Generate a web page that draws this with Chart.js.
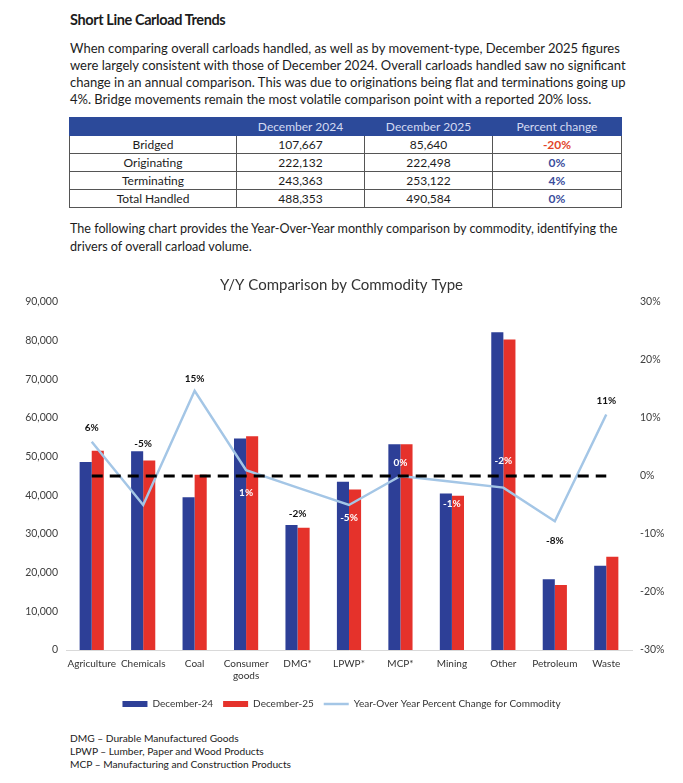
<!DOCTYPE html>
<html>
<head>
<meta charset="utf-8">
<title>Short Line Carload Trends</title>
<script src="https://cdn.jsdelivr.net/npm/chart.js@4.4.1/dist/chart.umd.min.js"></script>
<style>
  body { margin: 0; background: #fff; }
  .page { position: relative; width: 683px; height: 783px; font-family: Lato, "Noto Sans", sans-serif; color: #1c1c1c; }
  #head { position: absolute; left: 70px; top: 11px; font-size: 14.5px; line-height: 18px; font-weight: 700; letter-spacing: -0.4px; }
  #p1 { position: absolute; left: 70px; top: 40px; font-size: 13px; line-height: 17px; white-space: nowrap; }
  #tbl { position: absolute; left: 69px; top: 117px; border-collapse: collapse; font-size: 12px; }
  #tbl td, #tbl th { border: 1px solid #555; height: 17px; padding: 0; text-align: center; font-weight: 400; }
  #tbl th { background: #2c4a9a; color: #d5dbf2; border-color: #2c4a9a; }
  #tbl .neg { color: #e2452b; font-weight: 700; }
  #tbl .pos { color: #3b4d9c; font-weight: 700; }
  #p2 { position: absolute; left: 70px; top: 220px; font-size: 12.6px; line-height: 18px; white-space: nowrap; }
  #chartbox { position: absolute; left: 0; top: 262px; width: 683px; height: 460px; }
  #notes { position: absolute; left: 70px; top: 732px; font-size: 10.2px; line-height: 13px; }
</style>
</head>
<body>
<div class="page">
  <div id="head">Short Line Carload Trends</div>
  <div id="p1">When comparing overall carloads handled, as well as by movement-type, December 2025 figures<br>were largely consistent with those of December 2024. Overall carloads handled saw no significant<br>change in an annual comparison. This was due to originations being flat and terminations going up<br>4%. Bridge movements remain the most volatile comparison point with a reported 20% loss.</div>
  <table id="tbl">
    <tr><th style="width:166px"></th><th style="width:127px">December 2024</th><th style="width:127px">December 2025</th><th style="width:128px">Percent change</th></tr>
    <tr><td>Bridged</td><td>107,667</td><td>85,640</td><td class="neg">-20%</td></tr>
    <tr><td>Originating</td><td>222,132</td><td>222,498</td><td class="pos">0%</td></tr>
    <tr><td>Terminating</td><td>243,363</td><td>253,122</td><td class="pos">4%</td></tr>
    <tr><td>Total Handled</td><td>488,353</td><td>490,584</td><td class="pos">0%</td></tr>
  </table>
  <div id="p2">The following chart provides the Year-Over-Year monthly comparison by commodity, identifying the<br>drivers of overall carload volume.</div>
  <div id="chartbox"><canvas id="chart"></canvas></div>
  <div id="notes">DMG – Durable Manufactured Goods<br>LPWP – Lumber, Paper and Wood Products<br>MCP – Manufacturing and Construction Products</div>
</div>

<script>
const commodities = ['Agriculture', 'Chemicals', 'Coal', ['Consumer', 'goods'], 'DMG*', 'LPWP*', 'MCP*', 'Mining', 'Other', 'Petroleum', 'Waste'];
const dec24 = [48600, 51400, 39500, 54700, 32300, 43500, 53200, 40500, 82200, 18300, 21800];
const dec25 = [51500, 49000, 45300, 55300, 31600, 41500, 53200, 39900, 80300, 16800, 24100];
const yoyPct = [5.9, -5, 14.7, 1, -2, -5, 0, -1, -2, -7.8, 10.6];
const zeroLine = [0, 0, 0, 0, 0, 0, 0, 0, 0, 0, 0];

// label placement (px from the line point) and colour, per category
const labelShift = [-14, -61, -12, 23, 26, 13, -13, 22, -27, 20, -14];
const labelColor = ['#111', '#111', '#111', '#fff', '#111', '#fff', '#fff', '#fff', '#fff', '#111', '#111'];

const BLUE = '#2d3f97';
const RED = '#e5322b';
const LIGHT = '#a4c6e6';

const pctLabels = {
  id: 'pctLabels',
  afterDatasetsDraw(chart) {
    const meta = chart.getDatasetMeta(3);
    const ctx = chart.ctx;
    ctx.save();
    ctx.font = 'bold 10px Lato, sans-serif';
    ctx.textAlign = 'center';
    ctx.textBaseline = 'middle';
    meta.data.forEach((pt, i) => {
      ctx.fillStyle = labelColor[i];
      ctx.fillText(Math.round(yoyPct[i]) + '%', pt.x, pt.y + labelShift[i]);
    });
    ctx.restore();
  }
};

Chart.defaults.font.family = 'Lato, "Noto Sans", sans-serif';
Chart.defaults.color = '#404040';

new Chart(document.getElementById('chart'), {
  type: 'bar',
  data: {
    labels: commodities,
    datasets: [
      { type: 'bar', label: 'December-24', data: dec24, backgroundColor: BLUE, yAxisID: 'y', order: 2 },
      { type: 'bar', label: 'December-25', data: dec25, backgroundColor: RED, yAxisID: 'y', order: 3 },
      { type: 'line', label: 'zero', data: zeroLine, borderColor: '#000', borderWidth: 3, borderDash: [11, 7],
        pointRadius: 0, yAxisID: 'y1', order: 0 },
      { type: 'line', label: 'Year-Over Year Percent Change for Commodity', data: yoyPct, borderColor: LIGHT,
        backgroundColor: LIGHT, borderWidth: 2.5, pointRadius: 0, tension: 0, yAxisID: 'y1', order: 1 }
    ]
  },
  options: {
    responsive: true,
    maintainAspectRatio: false,
    animation: false,
    layout: { padding: { bottom: 3 } },
    datasets: { bar: { categoryPercentage: 0.47, barPercentage: 1.0 } },
    plugins: {
      title: {
        display: true,
        text: 'Y/Y Comparison by Commodity Type',
        font: { size: 15, weight: 'normal' },
        color: '#333',
        padding: { top: 14, bottom: 8 }
      },
      legend: {
        position: 'bottom',
        labels: {
          font: { size: 10 },
          padding: 10,
          usePointStyle: true,
          pointStyleWidth: 25,
          filter: item => item.text !== 'zero',
          sort: (a, b) => a.datasetIndex - b.datasetIndex,
          generateLabels(chart) {
            return chart.data.datasets.map((ds, i) => ({
              text: ds.label,
              datasetIndex: i,
              pointStyle: 'line',
              strokeStyle: ds.type === 'bar' ? ds.backgroundColor : ds.borderColor,
              fillStyle: ds.type === 'bar' ? ds.backgroundColor : ds.borderColor,
              lineWidth: ds.type === 'bar' ? 6 : 2.5,
              fontColor: '#333'
            }));
          }
        }
      },
      tooltip: { enabled: false }
    },
    scales: {
      x: {
        grid: { display: false, drawTicks: false },
        border: { display: true, color: '#d9d9d9' },
        ticks: { font: { size: 10 }, padding: 8, maxRotation: 0, autoSkip: false, color: '#333' },
        afterFit(scale) { scale.height = 39; }
      },
      y: {
        position: 'left',
        min: 0, max: 90000,
        grid: { display: false, drawTicks: false },
        border: { display: false },
        ticks: { stepSize: 10000, font: { size: 10.5 }, padding: 8, callback: v => v.toLocaleString('en-US') },
        afterFit(scale) { scale.width = 66; }
      },
      y1: {
        position: 'right',
        min: -30, max: 30,
        grid: { display: false, drawTicks: false },
        border: { display: false },
        ticks: { stepSize: 10, font: { size: 10.5 }, padding: 8, callback: v => v + '%' },
        afterFit(scale) { scale.width = 51; }
      }
    }
  },
  plugins: [pctLabels]
});
</script>
</body>
</html>
